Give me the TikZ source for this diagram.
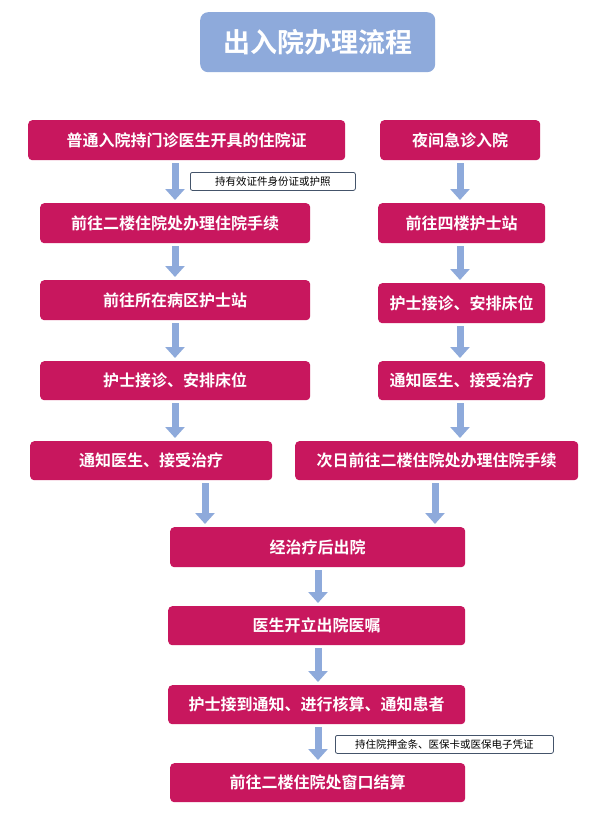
\documentclass[tikz,border=0pt]{standalone}
\usepackage{fontspec}
\setmainfont{Noto Sans CJK SC}
\newfontfamily\cjkb{Noto Sans CJK SC Bold}
\usetikzlibrary{arrows.meta}
\definecolor{mag}{HTML}{C8175E}
\definecolor{lblue}{HTML}{8EAADB}
\definecolor{nbord}{HTML}{44546A}
\tikzset{
  box/.style={fill=mag, rounded corners=4pt, text=white, font=\cjkb\fontsize{16}{18}\selectfont, inner sep=0pt, anchor=north west},
  arr/.style={draw=lblue, line width=7pt, -{Triangle[width=19pt,length=11pt]}, shorten <=3pt, shorten >=3pt},
  note/.style={draw=nbord, line width=0.8pt, rounded corners=2pt, fill=white, font=\fontsize{10.5}{12}\selectfont, inner sep=2pt, minimum height=18pt}
}
\begin{document}
\begin{tikzpicture}[x=1pt,y=-1pt]
\useasboundingbox (0,0) rectangle (611,827);
\fill[white] (0,0) rectangle (611,827);
\node[fill=lblue, rounded corners=8pt, text=white, font=\cjkb\fontsize{27}{30}\selectfont, minimum width=235pt, minimum height=60pt, anchor=north west] (T) at (200,12) {出入院办理流程};
\newcommand\bx[6]{\node[box, minimum width=#4pt, minimum height=#5pt] (#1) at (#2,#3) {#6};}
\bx{L1}{28}{120}{317}{40}{普通入院持门诊医生开具的住院证}
\bx{L2}{40}{203}{270}{40}{前往二楼住院处办理住院手续}
\bx{L3}{40}{280}{270}{40}{前往所在病区护士站}
\bx{L4}{40}{361}{270}{39}{护士接诊、安排床位}
\bx{L5}{30}{441}{242}{39}{通知医生、接受治疗}
\bx{R1}{380}{120}{160}{40}{夜间急诊入院}
\bx{R2}{378}{203}{167}{40}{前往四楼护士站}
\bx{R3}{378}{283}{167}{40}{护士接诊、安排床位}
\bx{R4}{378}{361}{167}{39}{通知医生、接受治疗}
\bx{R5}{295}{441}{283}{39}{次日前往二楼住院处办理住院手续}
\bx{C1}{170}{527}{295}{40}{经治疗后出院}
\bx{C2}{168}{606}{297}{39}{医生开立出院医嘱}
\bx{C3}{168}{685}{297}{39}{护士接到通知、进行核算、通知患者}
\bx{C4}{170}{763}{295}{39}{前往二楼住院处窗口结算}
\coordinate (xl) at (175,0);
\coordinate (xr) at (460,0);
\coordinate (xa) at (205,0);
\coordinate (xb) at (435,0);
\coordinate (xc) at (318,0);
\foreach \a/\b in {L1/L2,L2/L3,L3/L4,L4/L5}
  \draw[arr] (\a.south -| xl) -- (\b.north -| xl);
\foreach \a/\b in {R1/R2,R2/R3,R3/R4,R4/R5}
  \draw[arr] (\a.south -| xr) -- (\b.north -| xr);
\draw[arr] (L5.south -| xa) -- (C1.north -| xa);
\draw[arr] (R5.south -| xb) -- (C1.north -| xb);
\foreach \a/\b in {C1/C2,C2/C3,C3/C4}
  \draw[arr] (\a.south -| xc) -- (\b.north -| xc);
\node[note, anchor=north west, minimum width=165pt] (N1) at (190,172) {持有效证件身份证或护照};
\node[note, anchor=north west, minimum width=218pt] (N2) at (335,735) {持住院押金条、医保卡或医保电子凭证};
\end{tikzpicture}
\end{document}
